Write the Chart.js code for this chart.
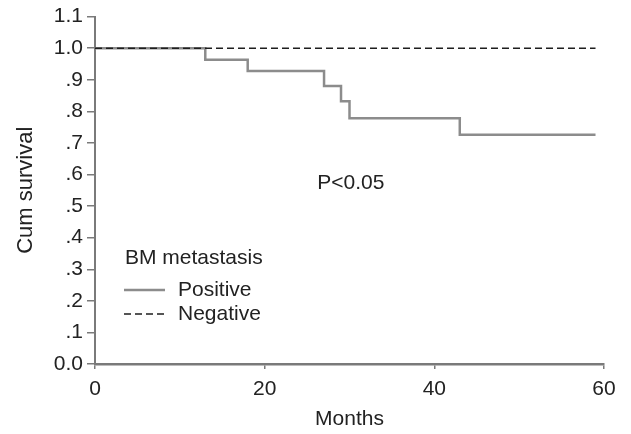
<!DOCTYPE html>
<html>
<head>
<meta charset="utf-8">
<script src="https://cdn.jsdelivr.net/npm/chart.js@4"></script>
<style>
  html, body { margin: 0; padding: 0; background: #fff; }
  #wrap { width: 631px; height: 434px; }
</style>
</head>
<body>
<div id="wrap"><canvas id="kmChart" width="631" height="434"></canvas></div>
<script>
// Kaplan-Meier data (months, cumulative survival)
const positiveMonths = [0, 13, 18, 27, 29, 30, 43, 59];
const positiveSurvival = [1.0, 0.963, 0.928, 0.88, 0.832, 0.778, 0.726, 0.726];
const negativeMonths = [0, 59];
const negativeSurvival = [1.0, 1.0];
const yTickLabels = ['0.0', '.1', '.2', '.3', '.4', '.5', '.6', '.7', '.8', '.9', '1.0', '1.1'];
const xTickValues = [0, 20, 40, 60];
const seriesNames = ['Positive', 'Negative'];
const legendTitle = 'BM metastasis';
const pText = 'P<0.05';

const FONT = 'Liberation Sans, Arial, Helvetica, sans-serif';
const SIZE = 21;
const TEXT = '#222';
const AXIS = '#7a7a7a';

const toPoints = (xs, ys) => xs.map((x, i) => ({ x: x, y: ys[i] }));

// draws the in-plot legend and the p-value text
const annotations = {
    id: 'annotations',
    afterDraw(chart) {
        const { ctx, scales: { x, y } } = chart;
        ctx.save();
        ctx.font = SIZE + 'px ' + FONT;
        ctx.fillStyle = TEXT;
        ctx.textBaseline = 'middle';
        ctx.textAlign = 'left';

        ctx.fillText(pText, x.getPixelForValue(26.2), y.getPixelForValue(0.574));

        const lx = 124;
        ctx.fillText(legendTitle, lx + 1, 258);
        chart.data.datasets.forEach((ds, i) => {
            const ly = 290 + i * 24;
            ctx.beginPath();
            ctx.strokeStyle = ds.borderColor;
            ctx.lineWidth = ds.borderWidth;
            ctx.setLineDash(ds.borderDash || []);
            ctx.moveTo(lx, ly);
            ctx.lineTo(lx + 41, ly);
            ctx.stroke();
            ctx.setLineDash([]);
            ctx.fillText(seriesNames[i], lx + 54, ly);
        });
        ctx.restore();
    }
};

const ctx = document.getElementById('kmChart').getContext('2d');

new Chart(ctx, {
    type: 'line',
    data: {
        datasets: [{
            label: seriesNames[0],
            data: toPoints(positiveMonths, positiveSurvival),
            borderColor: '#8c8c8c',
            borderWidth: 2.5,
            stepped: 'before',
            pointRadius: 0,
            fill: false,
            order: 1
        }, {
            label: seriesNames[1],
            data: toPoints(negativeMonths, negativeSurvival),
            borderColor: '#1e1e1e',
            borderWidth: 1.6,
            borderDash: [7, 4],
            pointRadius: 0,
            fill: false,
            order: 0
        }]
    },
    options: {
        responsive: false,
        animation: false,
        layout: { padding: { top: 14, right: 27, bottom: 0, left: 0 } },
        plugins: {
            legend: { display: false },
            tooltip: { enabled: false }
        },
        scales: {
            x: {
                type: 'linear',
                min: 0,
                max: 60,
                afterFit: s => { s.height = 70; },
                afterBuildTicks: s => { s.ticks = xTickValues.map(v => ({ value: v })); },
                grid: { drawOnChartArea: false, color: AXIS, tickLength: 5, lineWidth: 1.5 },
                border: { color: AXIS, width: 2.5 },
                ticks: { color: TEXT, padding: 8, maxRotation: 0, font: { size: SIZE, family: FONT } },
                title: { display: true, text: 'Months', color: TEXT, padding: { top: 0, bottom: 2 }, font: { size: SIZE, family: FONT } }
            },
            y: {
                min: 0,
                max: 1.1,
                afterFit: s => { s.width = 95; },
                afterBuildTicks: s => { s.ticks = yTickLabels.map((t, i) => ({ value: i / 10 })); },
                grid: { drawOnChartArea: false, color: AXIS, tickLength: 8, lineWidth: 1.5 },
                border: { color: AXIS, width: 2 },
                ticks: {
                    color: TEXT,
                    padding: 4,
                    font: { size: SIZE, family: FONT },
                    callback: (v, i) => yTickLabels[i]
                },
                title: { display: true, text: 'Cum survival', color: TEXT, padding: { top: 13, bottom: 0 }, font: { size: 22, family: FONT } }
            }
        }
    },
    plugins: [annotations]
});
</script>
</body>
</html>
